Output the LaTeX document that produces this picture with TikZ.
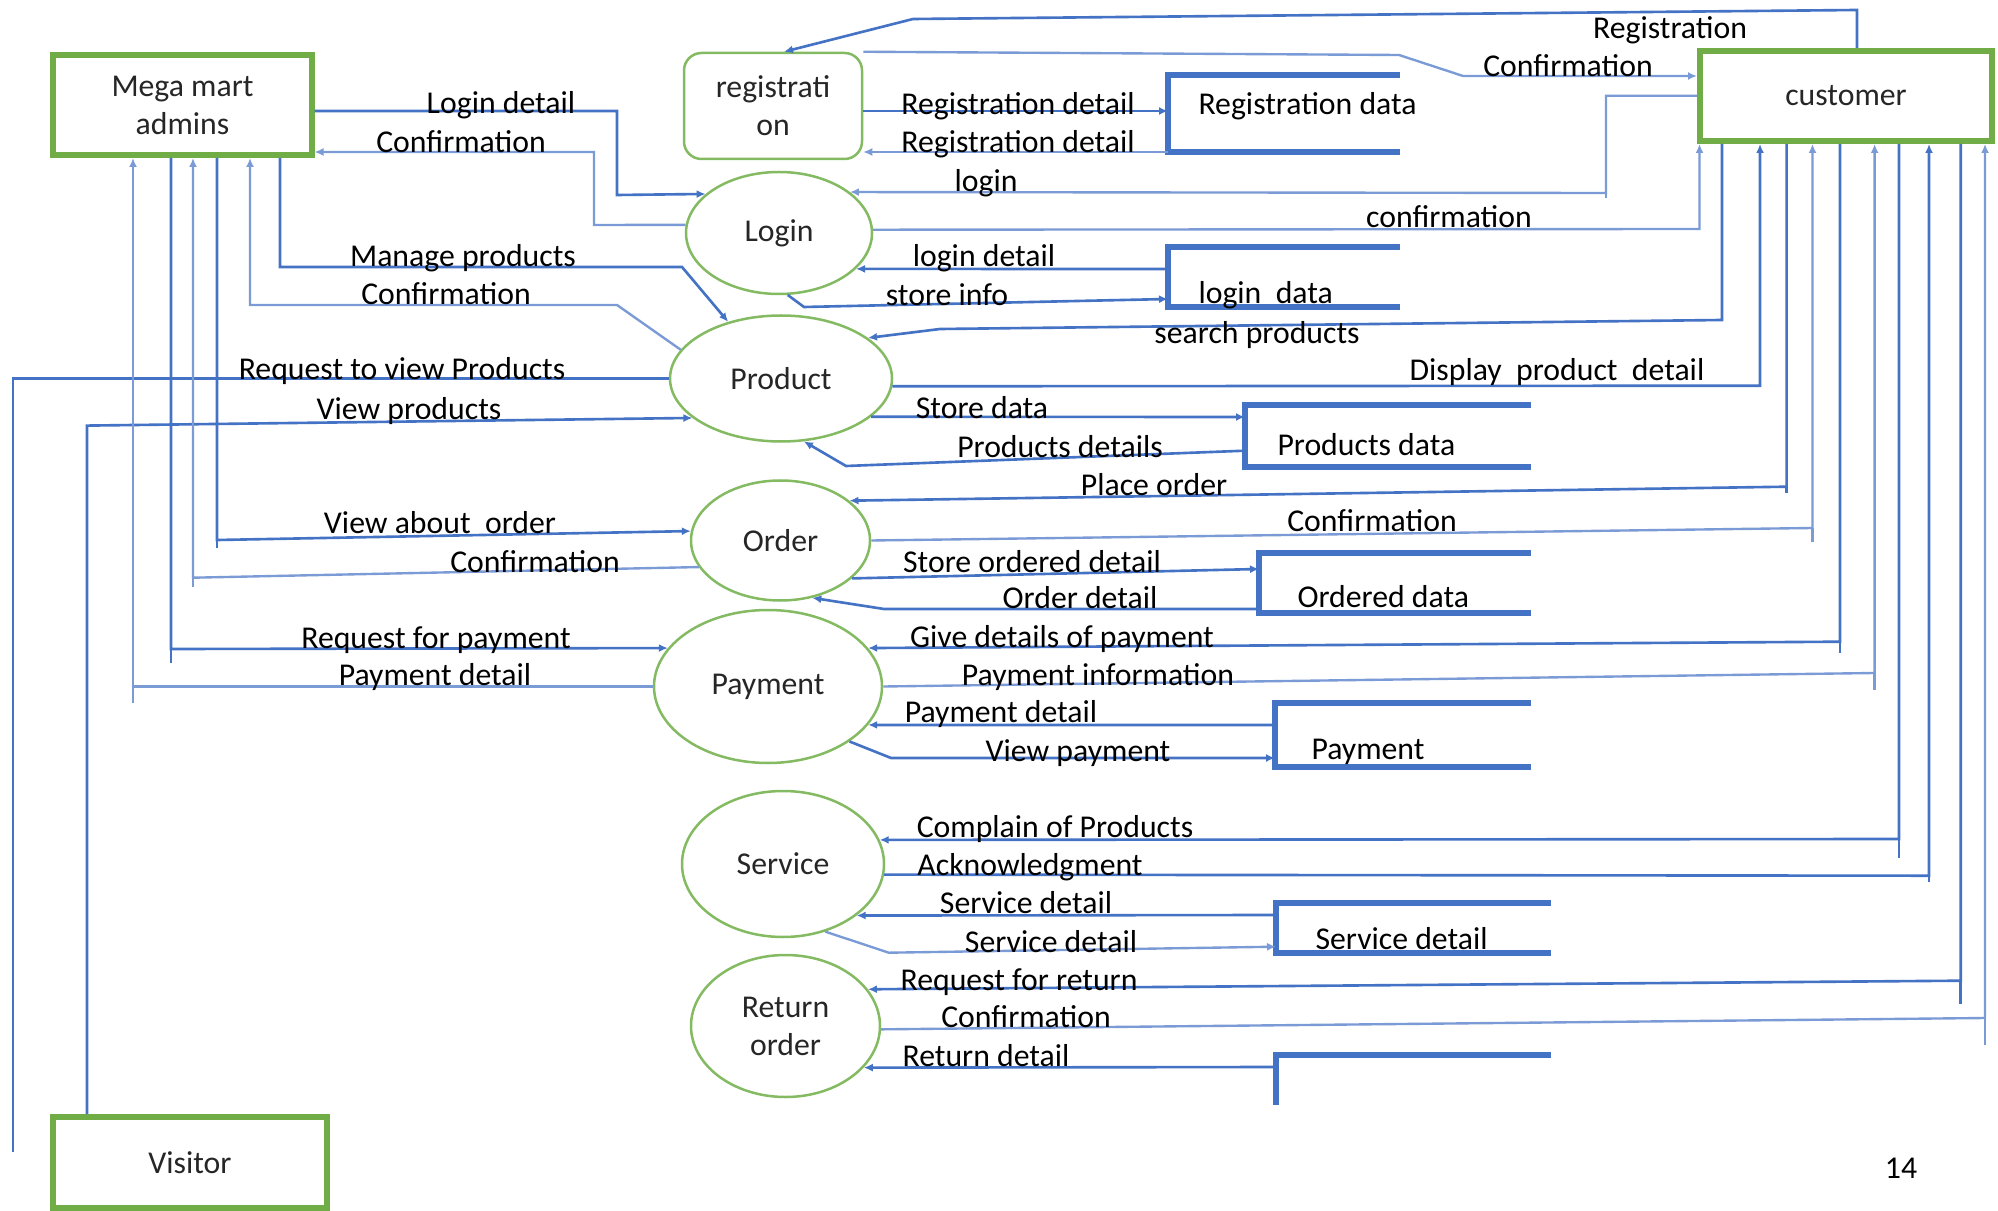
\documentclass[tikz,border=0pt]{standalone}
\usepackage{fontspec}
\setmainfont{Carlito}
\usetikzlibrary{arrows.meta,shapes.geometric}
\definecolor{fblue}{HTML}{4472C4}
\definecolor{lblue}{HTML}{7B9BD6}
\definecolor{egreen}{HTML}{70AD47}
\definecolor{pgreen}{HTML}{84BA62}
\definecolor{tgray}{HTML}{262626}
\begin{document}
\begin{tikzpicture}[x=0.4pt,y=-0.4pt,
  every node/.style={font=\fontsize{12.7}{15.2}\selectfont},
  entity/.style={draw=egreen,line width=2.4pt,text=tgray,inner sep=0pt},
  proc/.style={ellipse,draw=pgreen,line width=1pt,text=tgray,inner sep=0pt,align=center},
  procbox/.style={draw=pgreen,line width=1pt,text=tgray,inner sep=0pt,align=center},
  flow/.style={draw=fblue,line width=1.05pt},
  flowl/.style={draw=lblue,line width=0.95pt},
  flowarr/.style={-{Latex[length=3.6pt,width=3.2pt]}},
  dstore/.style={draw=fblue,line width=2.4pt},
  lbl/.style={anchor=base,inner sep=0pt,text=black},
  slbl/.style={anchor=base west,inner sep=0pt,text=black}]

\fill[white] (0,0) rectangle (1998,1211);
\path[use as bounding box] (0,0) rectangle (1998,1211);

% ---------- external entities ----------
\node[entity,minimum width=103.2pt,minimum height=40pt,align=center] (admin) at (182.5,105) {Mega mart\\admins};
\node[entity,minimum width=116.8pt,minimum height=36pt] (customer) at (1846,96) {customer};
\node[entity,minimum width=109.6pt,minimum height=36.4pt] (visitor) at (190,1162.5) {Visitor};

% ---------- processes ----------
\node[procbox,rounded corners=7pt,minimum width=71.2pt,minimum height=42.4pt] (registration) at (773,106) {registrati\\on};
\node[proc,minimum width=74.4pt,minimum height=48.8pt] (login) at (779,233) {Login};
\node[proc,minimum width=88.8pt,minimum height=50.4pt] (product) at (781,378.5) {Product};
\node[proc,minimum width=71.6pt,minimum height=48pt] (order) at (780.5,540.5) {Order};
\node[proc,minimum width=91.2pt,minimum height=61.2pt] (payment) at (768,686.5) {Payment};
\node[proc,minimum width=80.8pt,minimum height=58.4pt] (service) at (783,864) {Service};
\node[proc,minimum width=75.6pt,minimum height=56.8pt] (return) at (785.5,1026) {Return\\order};

% ---------- data stores ----------
\coordinate (regL) at (1168,0);
\coordinate (logL) at (1168,0);
\coordinate (prodL) at (1245,0);
\coordinate (ordL) at (1259,0);
\coordinate (payL) at (1275,0);
\coordinate (servL) at (1276,0);
\coordinate (retL) at (1276,0);
\draw[dstore] (1400,75) -- (1168,75) -- (1168,152) -- (1400,152);
\draw[dstore] (1400,247) -- (1168,247) -- (1168,307) -- (1400,307);
\draw[dstore] (1531,405) -- (1245,405) -- (1245,467) -- (1531,467);
\draw[dstore] (1531,553) -- (1259,553) -- (1259,613) -- (1531,613);
\draw[dstore] (1531,703) -- (1275,703) -- (1275,767) -- (1531,767);
\draw[dstore] (1551,903) -- (1276,903) -- (1276,953) -- (1551,953);
\draw[dstore] (1551,1055) -- (1276,1055) -- (1276,1105);
\node[slbl] (sregdata) at (1198,115) {Registration data};
\node[slbl] (slogdata) at (1198,304) {login\ \ data};
\node[slbl] (sproddata) at (1277,456) {Products data};
\node[slbl] (sorddata) at (1297,607) {Ordered data};
\node[slbl] (spaydata) at (1311,759) {Payment};
\node[slbl] (sservdata) at (1315,949) {Service detail};

% ---------- admin flows ----------
\draw[flow,flowarr] (admin.east |- 0,111) -- (617,111) -- (617,195) -- (login.152);
\draw[flowl,flowarr] (login.175) -- (594,225) -- (594,152) -- (admin.east |- 0,152);
\draw[flow,flowarr] (admin.south -| 280,0) -- (280,267) -- (682,267) -- (product.133);
\draw[flowl,flowarr] (product.164) -- (617,305) -- (250,305) -- (admin.south -| 250,0);
\draw[flow] (product.west) -- (product.west -| 13,0) -- (13,1152);
\draw[flow,flowarr] (visitor.north -| 87,0) -- (87,425.6) -- (product.204);
\draw[flow,flowarr] (admin.south -| 217,0) -- (217,540) -- (order.174);
\draw[flow] (217,540) -- (217,548);
\draw[flowl,flowarr] (order.198) -- (193,577.7) -- (admin.south -| 193,0);
\draw[flowl] (193,577.7) -- (193,586.7);
\draw[flow,flowarr] (admin.south -| 171,0) -- (171,649) -- (payment.159);
\draw[flow] (171,649) -- (171,662.7);
\draw[flowl,flowarr] (payment.west) -- (133,686.5) -- (admin.south -| 133,0);
\draw[flowl] (133,686.5) -- (133,703);

% ---------- registration / login ----------
\draw[flow,flowarr] (customer.north -| 1857,0) -- (1857,10) -- (913,19) -- (registration.north -| 784,0);
\draw[flowl,flowarr] (registration.north east) -- (1399,55) -- (1463,76) -- (customer.west |- 0,76);
\draw[flow,flowarr] (registration.east |- 0,111) -- (regL |- 0,111);
\draw[flowl,flowarr] (regL |- 0,152) -- (registration.east |- 0,152);
\draw[flowl,flowarr] (customer.west |- 0,95.7) -- (1606,95.7) -- (1606,193) -- (login.30);
\draw[flowl] (1606,193) -- (1606,198);
\draw[flowl,flowarr] (login.2.5) -- (1699.5,229) -- (customer.south -| 1699.5,0);
\draw[flow,flowarr] (logL |- 0,269) -- (login.-25.6);
\draw[flow,flowarr] (login.-82) -- (804,307) -- (logL |- 0,299);

% ---------- product ----------
\draw[flow,flowarr] (customer.south -| 1722,0) -- (1722,320) -- (940,329) -- (product.25.5);
\draw[flow,flowarr] (product.-4) -- (1760,385.7) -- (customer.south -| 1760,0);
\draw[flow,flowarr] (product.-23.7) -- (prodL |- 0,417);
\draw[flow,flowarr] (prodL |- 0,450.7) -- (846,466) -- (product.-70);

% ---------- order ----------
\draw[flow,flowarr] (customer.south -| 1786.6,0) -- (1786.6,486.7) -- (order.30.7);
\draw[flow] (1786.6,486.7) -- (1786.6,493);
\draw[flowl,flowarr] (order.east) -- (1812.5,528) -- (customer.south -| 1812.5,0);
\draw[flowl] (1812.5,528) -- (1812.5,541.7);
\draw[flow,flowarr] (order.-28.2) -- (ordL |- 0,569);
\draw[flow,flowarr] (ordL |- 0,609) -- (884,609) -- (order.-61);

% ---------- payment ----------
\draw[flow,flowarr] (customer.south -| 1840,0) -- (1840,641.7) -- (payment.21);
\draw[flow] (1840,641.7) -- (1840,653);
\draw[flowl,flowarr] (payment.east) -- (1874.6,673) -- (customer.south -| 1874.6,0);
\draw[flowl] (1874.6,673) -- (1874.6,690);
\draw[flow,flowarr] (payL |- 0,725) -- (payment.-21.3);
\draw[flow,flowarr] (payment.-34) -- (891,758) -- (payL |- 0,758);

% ---------- service ----------
\draw[flow,flowarr] (customer.south -| 1899,0) -- (1899,839) -- (service.14);
\draw[flow] (1899,839) -- (1899,858);
\draw[flow,flowarr] (service.-6.7) -- (1929,875.7) -- (customer.south -| 1929,0);
\draw[flow] (1929,875.7) -- (1929,881.7);
\draw[flow,flowarr] (servL |- 0,915) -- (service.-35.2);
\draw[flowl,flowarr] (service.-58) -- (888.8,952.7) -- (servL |- 0,946.7);

% ---------- return ----------
\draw[flow,flowarr] (customer.south -| 1960.7,0) -- (1960.7,980.7) -- (return.24.7);
\draw[flow] (1960.7,980.7) -- (1960.7,1004);
\draw[flowl,flowarr] (return.-2) -- (1985,1018) -- (customer.south -| 1985,0);
\draw[flowl] (1985,1018) -- (1985,1045);
\draw[flow,flowarr] (retL |- 0,1067) -- (return.-28);

% ---------- labels ----------
\node[lbl] (l1) at (501,114) {Login detail};
\node[lbl] (l2) at (461,153) {Confirmation};
\node[lbl] (l3) at (463,267) {Manage products};
\node[lbl] (l4) at (446,305) {Confirmation};
\node[lbl] (l5) at (402,380) {Request to view Products};
\node[lbl] (l6) at (409,420) {View products};
\node[lbl] (l7) at (440,533) {View about\ \ order};
\node[lbl] (l8) at (535,572) {Confirmation};
\node[lbl] (l9) at (436,648) {Request for payment};
\node[lbl] (l10) at (435,685) {Payment detail};
\node[lbl] (l11) at (1670,39) {Registration};
\node[lbl] (l12) at (1568,77) {Confirmation};
\node[lbl] (l13) at (1018,115) {Registration detail};
\node[lbl] (l14) at (1018,153) {Registration detail};
\node[lbl] (l15) at (986,192) {login};
\node[lbl] (l16) at (1449,228) {confirmation};
\node[lbl] (l17) at (984,267) {login detail};
\node[lbl] (l18) at (947,306) {store info};
\node[lbl] (l19) at (1257,344) {search products};
\node[lbl] (l20) at (1557,381) {Display\ \ product\ \ detail};
\node[lbl] (l21) at (982,419) {Store data};
\node[lbl] (l22) at (1060,458) {Products details};
\node[lbl] (l23) at (1154,495) {Place order};
\node[lbl] (l24) at (1372,532) {Confirmation};
\node[lbl] (l25) at (1032,572) {Store ordered detail};
\node[lbl] (l26) at (1080,608) {Order detail};
\node[lbl] (l27) at (1062,647) {Give details of payment};
\node[lbl] (l28) at (1098,685) {Payment information};
\node[lbl] (l29) at (1001,722) {Payment detail};
\node[lbl] (l30) at (1078,761) {View payment};
\node[lbl] (l31) at (1055,837) {Complain of Products};
\node[lbl] (l32) at (1030,875) {Acknowledgment};
\node[lbl] (l33) at (1026,913) {Service detail};
\node[lbl] (l34) at (1051,952) {Service detail};
\node[lbl] (l35) at (1019,990) {Request for return};
\node[lbl] (l36) at (1026,1027) {Confirmation};
\node[lbl] (l37) at (986,1066) {Return detail};
\node[lbl] (pagenum) at (1901,1178) {14};
\end{tikzpicture}
\end{document}
